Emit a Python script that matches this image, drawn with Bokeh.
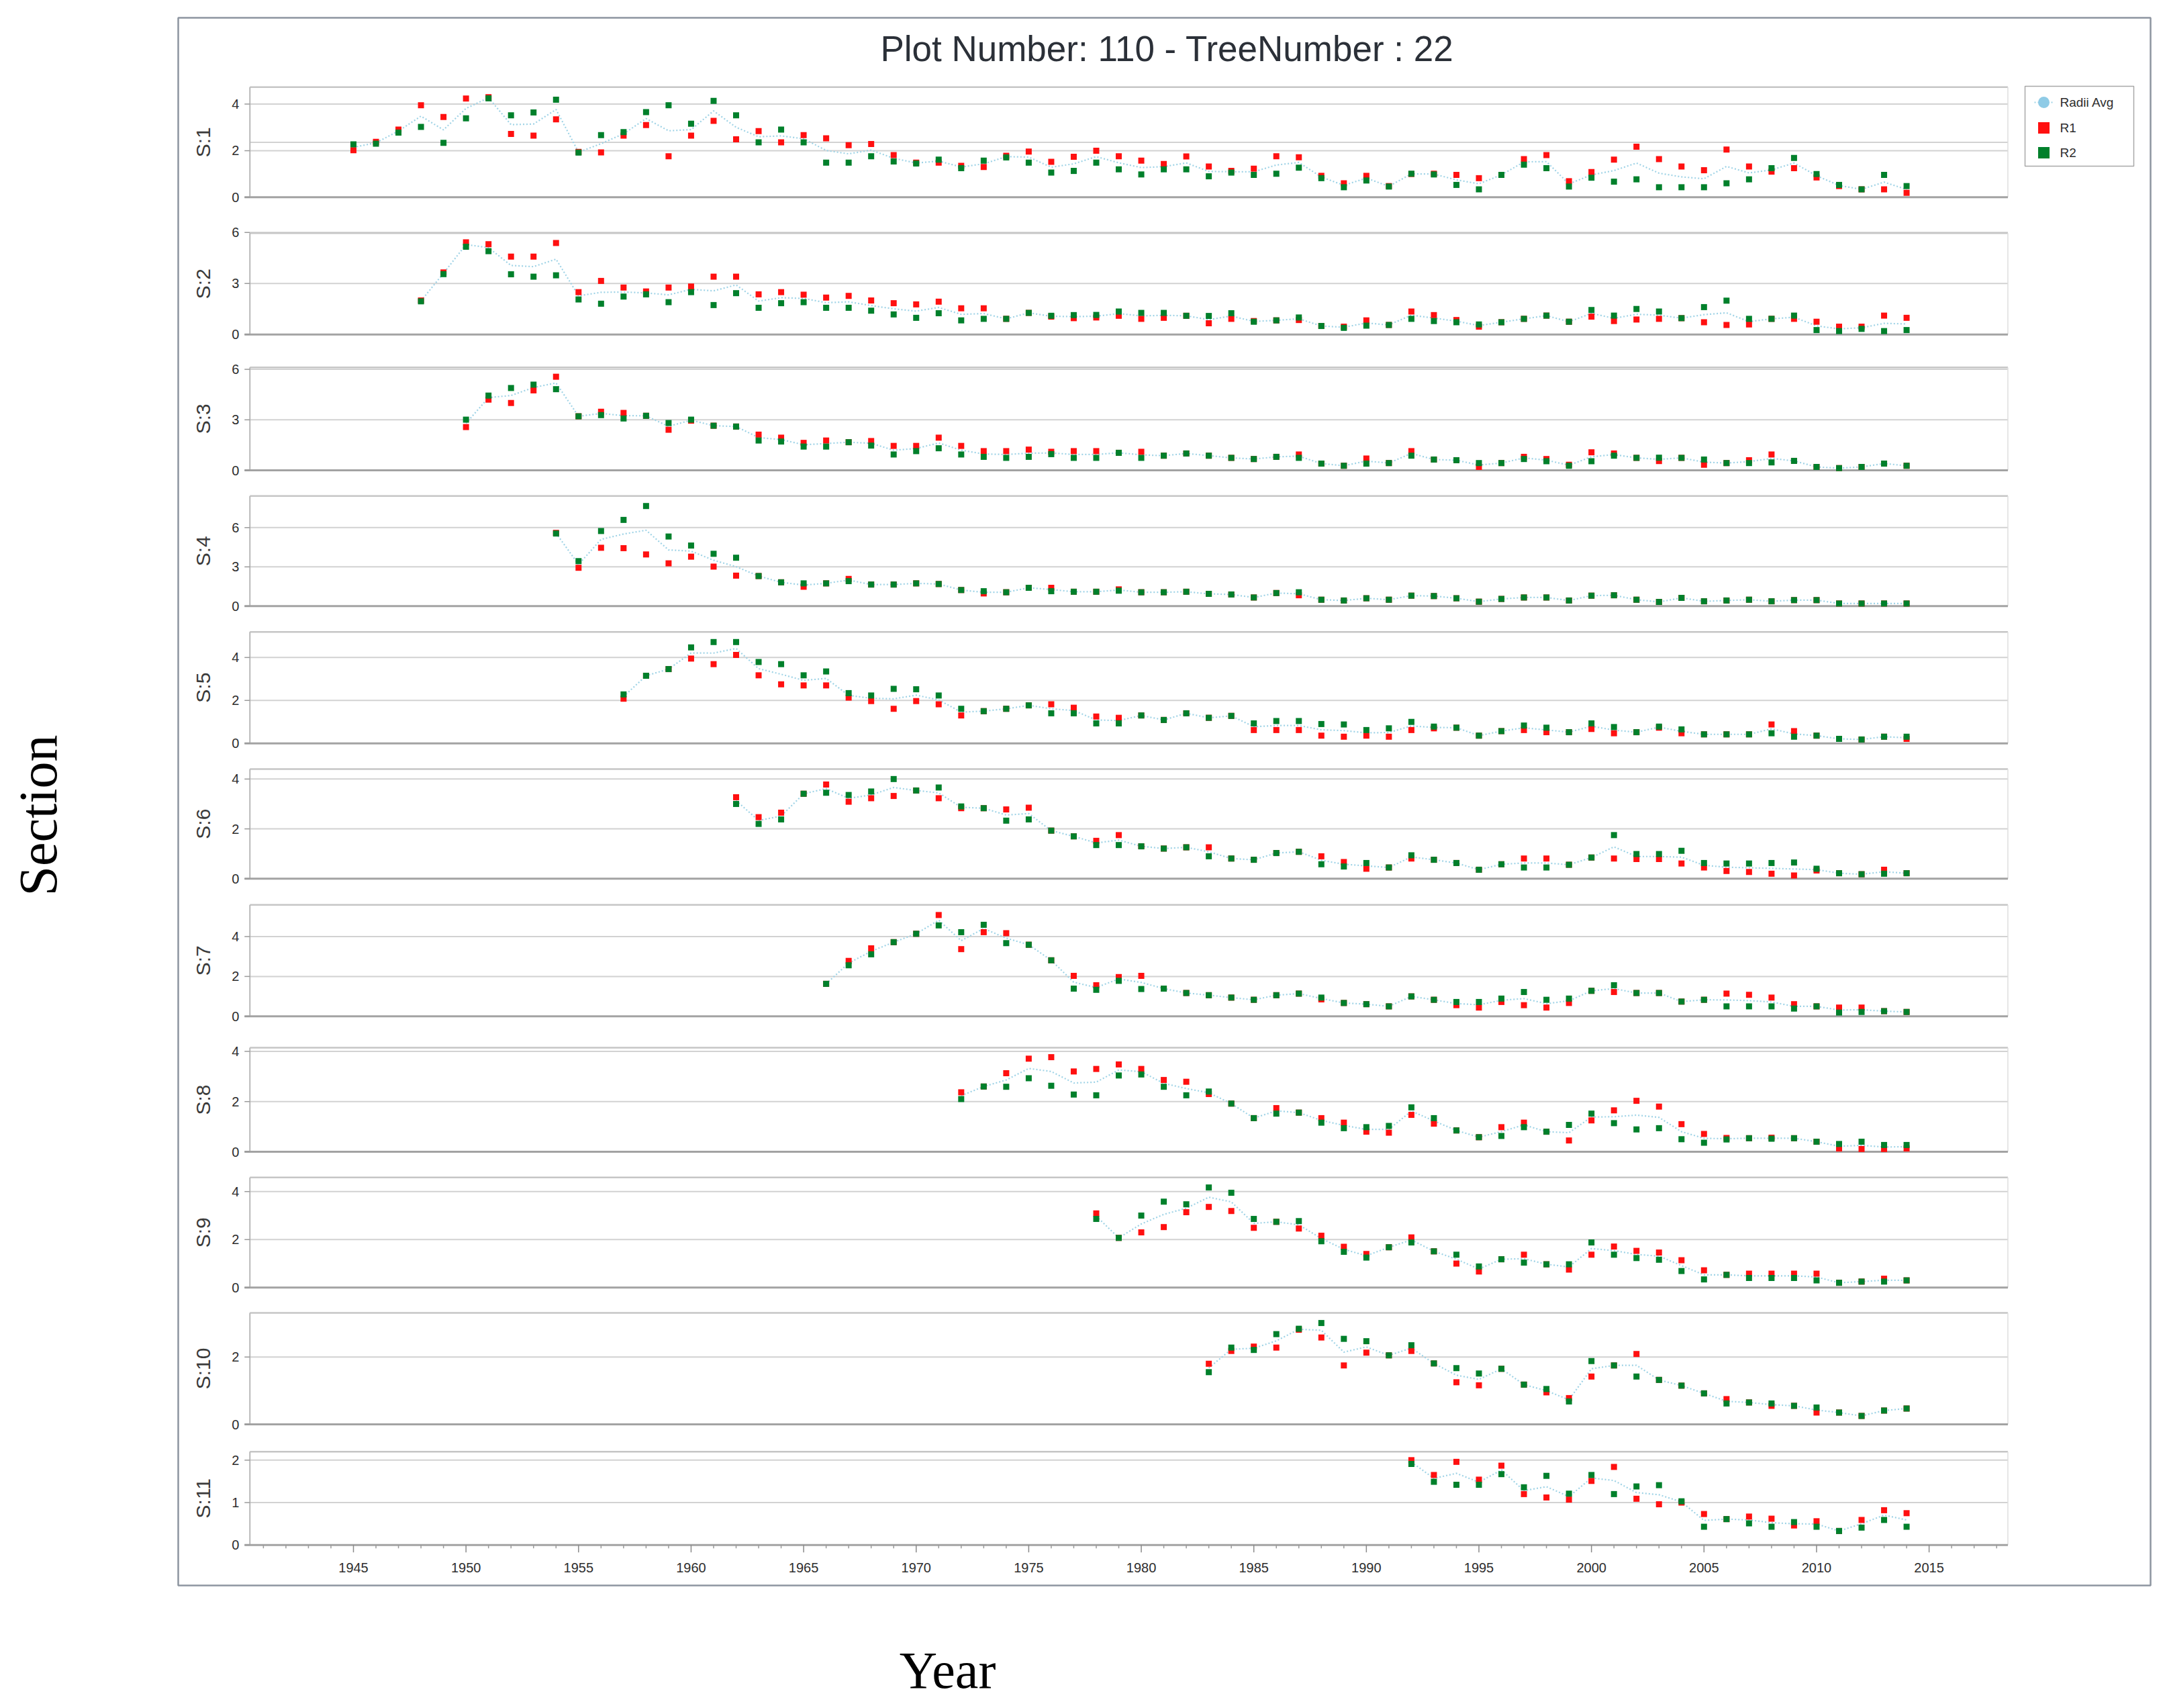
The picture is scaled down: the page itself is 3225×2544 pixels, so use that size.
import math
from bokeh.plotting import figure
from bokeh.models import Range1d
from bokeh.core.properties import value
from bokeh.embed import file_html
from bokeh.resources import INLINE

# ---------------- data ----------------
title_text = "Plot Number: 110 - TreeNumber : 22"
sections = ["S:1", "S:2", "S:3", "S:4", "S:5", "S:6", "S:7", "S:8", "S:9", "S:10", "S:11"]
start_years = [1945, 1948, 1950, 1954, 1957, 1962, 1966, 1972, 1978, 1983, 1992]

r1_s1 = [2.02, 2.38, 2.91, 3.95, 3.45, 4.24, 4.30, 2.72, 2.65, 3.35,
         1.95, 1.93, 2.65, 3.10, 1.76, 2.65, 3.28, 2.49, 2.84, 2.36,
         2.67, 2.53, 2.24, 2.29, 1.81, 1.49, 1.49, 1.35, 1.30, 1.78,
         1.96, 1.52, 1.74, 2.00, 1.76, 1.57, 1.43, 1.75, 1.32, 1.13,
         1.23, 1.76, 1.72, 0.92, 0.60, 0.92, 0.48, 1.00, 1.01, 0.96,
         0.82, 0.96, 1.64, 1.81, 0.69, 1.08, 1.62, 2.17, 1.64, 1.32,
         1.16, 2.05, 1.32, 1.10, 1.25, 0.85, 0.48, 0.34, 0.34, 0.19]
r2_s1 = [2.27, 2.30, 2.78, 3.02, 2.34, 3.39, 4.25, 3.52, 3.64, 4.19,
         1.92, 2.67, 2.80, 3.66, 3.95, 3.16, 4.14, 3.52, 2.36, 2.91,
         2.36, 1.49, 1.49, 1.76, 1.54, 1.45, 1.62, 1.25, 1.57, 1.71,
         1.49, 1.06, 1.13, 1.49, 1.20, 0.98, 1.20, 1.20, 0.90, 1.06,
         0.96, 1.01, 1.27, 0.82, 0.43, 0.72, 0.46, 1.01, 0.98, 0.53,
         0.34, 0.96, 1.40, 1.25, 0.46, 0.84, 0.67, 0.77, 0.43, 0.43,
         0.43, 0.60, 0.77, 1.25, 1.69, 1.00, 0.53, 0.34, 0.96, 0.48]

r1_s2 = [2.00, 3.65, 5.42, 5.31, 4.58, 4.58, 5.38, 2.49, 3.15, 2.76,
         2.53, 2.76, 2.82, 3.40, 3.40, 2.36, 2.49, 2.34, 2.17, 2.27,
         2.00, 1.84, 1.77, 1.93, 1.54, 1.54, 0.92, 1.27, 1.05, 0.96,
         1.00, 1.10, 0.92, 0.98, 1.10, 0.66, 0.92, 0.79, 0.83, 0.85,
         0.50, 0.46, 0.83, 0.56, 1.35, 1.14, 0.85, 0.46, 0.72, 0.92,
         1.11, 0.75, 1.05, 0.79, 0.88, 0.92, 0.96, 0.72, 0.56, 0.59,
         0.92, 0.92, 0.75, 0.46, 0.46, 1.11, 0.98]
r2_s2 = [1.95, 3.55, 5.16, 4.90, 3.54, 3.40, 3.48, 2.06, 1.81, 2.23,
         2.36, 1.90, 2.49, 1.73, 2.43, 1.57, 1.84, 1.90, 1.57, 1.57,
         1.40, 1.18, 0.98, 1.25, 0.83, 0.92, 0.92, 1.27, 1.10, 1.14,
         1.15, 1.35, 1.27, 1.27, 1.10, 1.09, 1.25, 0.75, 0.83, 1.00,
         0.50, 0.39, 0.52, 0.56, 0.92, 0.79, 0.72, 0.59, 0.72, 0.92,
         1.11, 0.75, 1.44, 1.11, 1.50, 1.35, 0.96, 1.61, 1.99, 0.92,
         0.92, 1.11, 0.26, 0.20, 0.33, 0.20, 0.26]

r1_s3 = [2.57, 4.20, 4.00, 4.75, 5.56, 3.21, 3.48, 3.41, 3.24, 2.41,
         2.95, 2.65, 2.60, 2.12, 1.94, 1.63, 1.77, 1.67, 1.74, 1.45,
         1.45, 1.94, 1.45, 1.14, 1.14, 1.23, 1.10, 1.14, 1.14, 1.04,
         1.10, 0.87, 1.00, 0.87, 0.74, 0.67, 0.80, 0.94, 0.40, 0.27,
         0.70, 0.43, 1.14, 0.64, 0.60, 0.20, 0.43, 0.80, 0.67, 0.33,
         1.07, 1.00, 0.74, 0.55, 0.74, 0.33, 0.43, 0.60, 0.94, 0.56,
         0.20, 0.13, 0.20, 0.40, 0.27]
r2_s3 = [3.01, 4.44, 4.89, 5.09, 4.82, 3.21, 3.28, 3.08, 3.24, 2.81,
         3.01, 2.65, 2.60, 1.77, 1.71, 1.41, 1.41, 1.67, 1.47, 0.94,
         1.14, 1.31, 0.94, 0.80, 0.74, 0.80, 0.96, 0.74, 0.74, 1.04,
         0.74, 0.87, 1.00, 0.87, 0.74, 0.67, 0.80, 0.74, 0.40, 0.27,
         0.40, 0.43, 0.87, 0.64, 0.60, 0.43, 0.43, 0.67, 0.54, 0.27,
         0.54, 0.87, 0.74, 0.75, 0.74, 0.64, 0.43, 0.43, 0.47, 0.56,
         0.20, 0.13, 0.20, 0.40, 0.27]

r1_s4 = [5.60, 2.93, 4.46, 4.43, 3.95, 3.27, 3.78, 3.02, 2.33, 2.30,
         1.82, 1.48, 1.74, 2.08, 1.65, 1.65, 1.74, 1.69, 1.23, 0.97,
         1.06, 1.40, 1.40, 1.10, 1.10, 1.28, 1.06, 1.06, 1.10, 0.94,
         0.89, 0.66, 1.00, 0.83, 0.49, 0.43, 0.60, 0.49, 0.80, 0.77,
         0.60, 0.34, 0.55, 0.66, 0.66, 0.43, 0.80, 0.83, 0.49, 0.32,
         0.63, 0.37, 0.43, 0.49, 0.37, 0.46, 0.46, 0.20, 0.20, 0.20, 0.20]
r2_s4 = [5.55, 3.44, 5.74, 6.59, 7.65, 5.32, 4.63, 4.00, 3.70, 2.30,
         1.82, 1.74, 1.74, 1.91, 1.65, 1.65, 1.74, 1.69, 1.23, 1.14,
         1.06, 1.40, 1.14, 1.10, 1.10, 1.18, 1.06, 1.06, 1.10, 0.94,
         0.89, 0.66, 1.00, 1.06, 0.49, 0.43, 0.60, 0.49, 0.80, 0.77,
         0.60, 0.34, 0.55, 0.66, 0.66, 0.43, 0.80, 0.83, 0.49, 0.32,
         0.63, 0.37, 0.43, 0.49, 0.37, 0.46, 0.46, 0.20, 0.20, 0.20, 0.20]

r1_s5 = [2.08, 3.15, 3.46, 3.95, 3.69, 4.12, 3.17, 2.75, 2.70, 2.70,
         2.13, 1.97, 1.61, 1.97, 1.82, 1.30, 1.50, 1.61, 1.77, 1.82,
         1.66, 1.25, 1.19, 1.30, 1.09, 1.40, 1.19, 1.28, 0.62, 0.62,
         0.62, 0.36, 0.31, 0.36, 0.31, 0.62, 0.70, 0.73, 0.36, 0.57,
         0.62, 0.52, 0.52, 0.67, 0.47, 0.52, 0.73, 0.47, 0.42, 0.42,
         0.42, 0.88, 0.57, 0.36, 0.21, 0.18, 0.31, 0.21]
r2_s5 = [2.28, 3.15, 3.46, 4.47, 4.72, 4.72, 3.79, 3.69, 3.17, 3.35,
         2.34, 2.23, 2.54, 2.52, 2.23, 1.61, 1.50, 1.61, 1.77, 1.40,
         1.40, 0.93, 0.93, 1.30, 1.09, 1.40, 1.19, 1.28, 0.93, 1.04,
         1.04, 0.90, 0.88, 0.62, 0.70, 1.00, 0.78, 0.73, 0.36, 0.57,
         0.83, 0.73, 0.52, 0.93, 0.76, 0.52, 0.78, 0.65, 0.42, 0.42,
         0.42, 0.47, 0.31, 0.36, 0.21, 0.18, 0.31, 0.31]

r1_s6 = [3.27, 2.47, 2.65, 3.41, 3.78, 3.09, 3.23, 3.32, 3.54, 3.23,
         2.83, 2.83, 2.78, 2.85, 1.93, 1.70, 1.52, 1.75, 1.30, 1.21,
         1.26, 1.26, 0.81, 0.76, 1.03, 1.08, 0.90, 0.67, 0.40, 0.45,
         0.81, 0.76, 0.63, 0.36, 0.58, 0.81, 0.81, 0.56, 0.85, 0.81,
         0.79, 0.79, 0.61, 0.45, 0.31, 0.27, 0.20, 0.13, 0.33, 0.22,
         0.18, 0.36, 0.22]
r2_s6 = [3.00, 2.20, 2.38, 3.41, 3.45, 3.36, 3.50, 4.00, 3.54, 3.66,
         2.90, 2.83, 2.33, 2.38, 1.93, 1.70, 1.35, 1.35, 1.30, 1.21,
         1.26, 0.90, 0.81, 0.76, 1.03, 1.08, 0.58, 0.49, 0.63, 0.45,
         0.94, 0.76, 0.63, 0.36, 0.58, 0.45, 0.45, 0.56, 0.85, 1.75,
         0.99, 0.99, 1.12, 0.63, 0.61, 0.61, 0.63, 0.65, 0.40, 0.22,
         0.18, 0.20, 0.22]

r1_s7 = [1.63, 2.78, 3.41, 3.72, 4.14, 5.08, 3.37, 4.22, 4.17, 3.59,
         2.81, 2.03, 1.56, 1.97, 2.03, 1.39, 1.17, 1.06, 0.94, 0.83,
         1.06, 1.14, 0.85, 0.67, 0.61, 0.50, 1.00, 0.83, 0.56, 0.44,
         0.72, 0.56, 0.44, 0.67, 1.28, 1.22, 1.17, 1.17, 0.74, 0.83,
         1.14, 1.08, 0.94, 0.61, 0.50, 0.44, 0.44, 0.26, 0.22]
r2_s7 = [1.63, 2.56, 3.11, 3.72, 4.14, 4.56, 4.22, 4.59, 3.67, 3.59,
         2.81, 1.39, 1.33, 1.78, 1.37, 1.39, 1.17, 1.06, 0.94, 0.83,
         1.06, 1.14, 0.94, 0.67, 0.61, 0.50, 1.00, 0.83, 0.72, 0.72,
         0.89, 1.22, 0.83, 0.89, 1.28, 1.56, 1.17, 1.17, 0.74, 0.83,
         0.50, 0.50, 0.50, 0.39, 0.50, 0.19, 0.22, 0.26, 0.22]

r1_s8 = [2.37, 2.60, 3.13, 3.71, 3.77, 3.20, 3.30, 3.48, 3.30, 2.86,
         2.79, 2.30, 1.92, 1.34, 1.74, 1.56, 1.34, 1.16, 0.80, 0.76,
         1.47, 1.12, 0.85, 0.58, 0.98, 1.16, 0.80, 0.45, 1.25, 1.65,
         2.03, 1.80, 1.10, 0.71, 0.55, 0.54, 0.56, 0.54, 0.40, 0.13,
         0.11, 0.11, 0.13]
r2_s8 = [2.10, 2.60, 2.59, 2.93, 2.63, 2.28, 2.25, 3.04, 3.08, 2.59,
         2.25, 2.40, 1.92, 1.34, 1.52, 1.56, 1.16, 0.94, 0.98, 1.03,
         1.77, 1.34, 0.85, 0.58, 0.63, 0.98, 0.80, 1.07, 1.52, 1.14,
         0.89, 0.94, 0.50, 0.36, 0.49, 0.54, 0.52, 0.54, 0.40, 0.31,
         0.40, 0.27, 0.27]

r1_s9 = [3.09, 2.07, 2.30, 2.52, 3.14, 3.36, 3.19, 2.49, 2.74, 2.46,
         2.16, 1.70, 1.40, 1.68, 2.09, 1.51, 1.00, 0.67, 1.18, 1.37,
         0.97, 0.75, 1.37, 1.71, 1.53, 1.46, 1.14, 0.72, 0.53, 0.58,
         0.58, 0.58, 0.58, 0.20, 0.25, 0.37, 0.30]
r2_s9 = [2.86, 2.07, 3.00, 3.58, 3.47, 4.17, 3.95, 2.86, 2.74, 2.77,
         1.93, 1.49, 1.25, 1.68, 1.88, 1.51, 1.37, 0.88, 1.18, 1.04,
         0.97, 0.97, 1.88, 1.37, 1.23, 1.16, 0.69, 0.34, 0.53, 0.40,
         0.40, 0.40, 0.30, 0.20, 0.25, 0.25, 0.30]

r1_s10 = [1.80, 2.18, 2.31, 2.28, 2.81, 2.58, 1.75, 2.13, 2.05, 2.18,
          1.81, 1.25, 1.16, 1.65, 1.18, 0.95, 0.78, 1.42, 1.75, 2.09,
          1.32, 1.15, 0.92, 0.75, 0.65, 0.55, 0.55, 0.35, 0.35, 0.25,
          0.41, 0.47]
r2_s10 = [1.55, 2.28, 2.21, 2.68, 2.84, 3.01, 2.54, 2.47, 2.05, 2.35,
          1.81, 1.67, 1.51, 1.65, 1.18, 1.05, 0.68, 1.88, 1.75, 1.42,
          1.32, 1.15, 0.92, 0.62, 0.65, 0.62, 0.55, 0.50, 0.35, 0.25,
          0.41, 0.47]

r1_s11 = [2.00, 1.65, 1.96, 1.54, 1.87, 1.20, 1.12, 1.07, 1.51, 1.84,
          1.09, 0.96, 1.00, 0.73, 0.61, 0.67, 0.62, 0.46, 0.56, 0.33,
          0.59, 0.82, 0.75]
r2_s11 = [1.91, 1.49, 1.42, 1.42, 1.67, 1.36, 1.63, 1.21, 1.65, 1.20,
          1.38, 1.41, 1.03, 0.43, 0.61, 0.51, 0.43, 0.54, 0.43, 0.33,
          0.41, 0.59, 0.43]

r1_all = [r1_s1, r1_s2, r1_s3, r1_s4, r1_s5, r1_s6, r1_s7, r1_s8, r1_s9, r1_s10, r1_s11]
r2_all = [r2_s1, r2_s2, r2_s3, r2_s4, r2_s5, r2_s6, r2_s7, r2_s8, r2_s9, r2_s10, r2_s11]

y_ticks = [[0, 2, 4], [0, 3, 6], [0, 3, 6], [0, 3, 6], [0, 2, 4], [0, 2, 4],
           [0, 2, 4], [0, 2, 4], [0, 2, 4], [0, 2], [0, 1, 2]]
extra_grid = [[2.36], [], [], [], [], [], [], [], [], [], []]
x_tick_labels = [1945, 1950, 1955, 1960, 1965, 1970, 1975, 1980, 1985, 1990,
                 1995, 2000, 2005, 2010, 2015]
x_minor_years = list(range(1941, 2019))
legend_labels = ["Radii Avg", "R1", "R2"]

# ---------------- layout (page pixels) ----------------
W, H = 3225, 2544
PPY = 33.53                       # pixels per year
X_LEFT, X_RIGHT = 1940.4, 2018.5  # panel x extent (years)
x_start = 1945 - 526 / PPY
panel_top = [129.3, 346.7, 546.7, 738.3, 940.7, 1145.0, 1347.3, 1560.0, 1753.3, 1955.0, 2161.7]
panel_zero = [293.3, 497.7, 700.0, 902.3, 1106.7, 1308.3, 1513.3, 1715.0, 1917.3, 2121.0, 2300.7]

RED = "#ff1010"
GREEN = "#00802b"
AVG = "#9fd3e6"
GRID = "#d2d2d2"
AXIS = "#a3a3a3"
TXT = "#2e2e2e"
SANS = value("Liberation Sans")
SERIF = value("Liberation Serif")

p = figure(width=W, height=H, x_range=Range1d(x_start, x_start + W / PPY),
           y_range=Range1d(H, 0), output_backend="svg", toolbar_location=None,
           min_border=0, x_axis_type=None, y_axis_type=None)
p.outline_line_color = None
p.background_fill_color = "white"
p.border_fill_color = "white"
p.extra_x_ranges = {"px": Range1d(0, W)}

# outer frame
p.quad(left=[265], right=[3203], top=[26], bottom=[2361], x_range_name="px",
       fill_color=None, line_color="#8d95a0", line_width=2.5)

# title
p.text(x=[1738], y=[72], text=[title_text], x_range_name="px",
       text_align="center", text_baseline="middle", text_font=SANS,
       text_font_size="53px", text_color="#2b3038")

for i, name in enumerate(sections):
    r1 = r1_all[i]
    r2 = r2_all[i]
    yrs = list(range(start_years[i], start_years[i] + len(r1)))
    avg = [(a + b) / 2 for a, b in zip(r1, r2)]
    ymax = 1.1 * max(max(r1), max(r2))
    top, zero = panel_top[i], panel_zero[i]
    span = ymax * H / (zero - top)
    start = -span * (H - zero) / H
    rn = f"s{i}"
    p.extra_y_ranges[rn] = Range1d(start, start + span)

    ticks = y_ticks[i]
    gt = [t for t in ticks if t > 0] + extra_grid[i]
    # gridlines
    p.segment(x0=[X_LEFT] * len(gt), x1=[X_RIGHT] * len(gt), y0=gt, y1=gt,
              y_range_name=rn, line_color=GRID, line_width=2)
    # top border
    p.segment(x0=[X_LEFT], x1=[X_RIGHT], y0=[ymax], y1=[ymax], y_range_name=rn,
              line_color="#c6c6c6", line_width=2.5)
    # right edge
    p.segment(x0=[X_RIGHT], x1=[X_RIGHT], y0=[0], y1=[ymax], y_range_name=rn,
              line_color="#dedede", line_width=1.5)
    # left axis
    p.segment(x0=[X_LEFT], x1=[X_LEFT], y0=[0], y1=[ymax], y_range_name=rn,
              line_color="#b8b8b8", line_width=2)
    # bottom axis line
    p.segment(x0=[X_LEFT - 8 / PPY], x1=[X_RIGHT], y0=[0], y1=[0], y_range_name=rn,
              line_color=AXIS, line_width=3)
    # y tick marks
    p.segment(x0=[X_LEFT - 8 / PPY] * len(ticks), x1=[X_LEFT] * len(ticks), y0=ticks, y1=ticks,
              y_range_name=rn, line_color="#9a9a9a", line_width=1.5)
    # tick labels
    p.text(x=[X_LEFT - 16 / PPY] * len(ticks), y=ticks, text=[str(t) for t in ticks],
           y_range_name=rn, text_align="right", text_baseline="middle",
           text_font=SANS, text_font_size="20px", text_color=TXT)
    # section label
    p.text(x=[X_LEFT - 70 / PPY], y=[ymax / 2], text=[name], y_range_name=rn,
           angle=math.pi / 2, text_align="center", text_baseline="middle",
           text_font=SANS, text_font_size="30px", text_color="#3a3a3a")
    # series
    p.line(yrs, avg, y_range_name=rn, line_color=AVG, line_width=2.2, line_dash="2 3")
    p.scatter(yrs, r1, y_range_name=rn, marker="square", size=9,
              fill_color=RED, line_color=None)
    p.scatter(yrs, r2, y_range_name=rn, marker="square", size=9,
              fill_color=GREEN, line_color=None)

# x axis (under last panel)
z = panel_zero[-1]
minor = [y for y in x_minor_years if y % 5 != 0]
major = [y for y in x_minor_years if y % 5 == 0]
p.segment(x0=minor, x1=minor, y0=[z] * len(minor), y1=[z + 5] * len(minor),
          line_color="#9a9a9a", line_width=1.5)
p.segment(x0=major, x1=major, y0=[z] * len(major), y1=[z + 11] * len(major),
          line_color="#8a8a8a", line_width=1.5)
p.text(x=x_tick_labels, y=[z + 34] * len(x_tick_labels), text=[str(v) for v in x_tick_labels],
       text_align="center", text_baseline="middle", text_font=SANS,
       text_font_size="20px", text_color=TXT)

# legend
p.quad(left=[3016], right=[3178], top=[128], bottom=[247], x_range_name="px",
       fill_color="white", line_color="#a8a8a8", line_width=1.5)
p.segment(x0=[3030], x1=[3058], y0=[152], y1=[152], x_range_name="px",
          line_color=AVG, line_width=2, line_dash="2 3")
p.scatter(x=[3044], y=[152], x_range_name="px", marker="circle", size=17,
          fill_color="#8fcbe6", line_color=None)
p.scatter(x=[3044, 3044], y=[190, 227], x_range_name="px", marker="square", size=17,
          fill_color=[RED, GREEN], line_color=None)
p.text(x=[3068] * 3, y=[152, 190, 227], text=legend_labels, x_range_name="px",
       text_align="left", text_baseline="middle", text_font=SANS,
       text_font_size="19px", text_color=TXT)

# outer axis titles
p.text(x=[56], y=[1214], text=["Section"], x_range_name="px", angle=math.pi / 2,
       text_align="center", text_baseline="middle", text_font=SERIF,
       text_font_size="80px", text_color="black")
p.text(x=[1411], y=[2487], text=["Year"], x_range_name="px",
       text_align="center", text_baseline="middle", text_font=SERIF,
       text_font_size="78px", text_color="black")

open("out.html", "w").write(file_html(p, INLINE))
